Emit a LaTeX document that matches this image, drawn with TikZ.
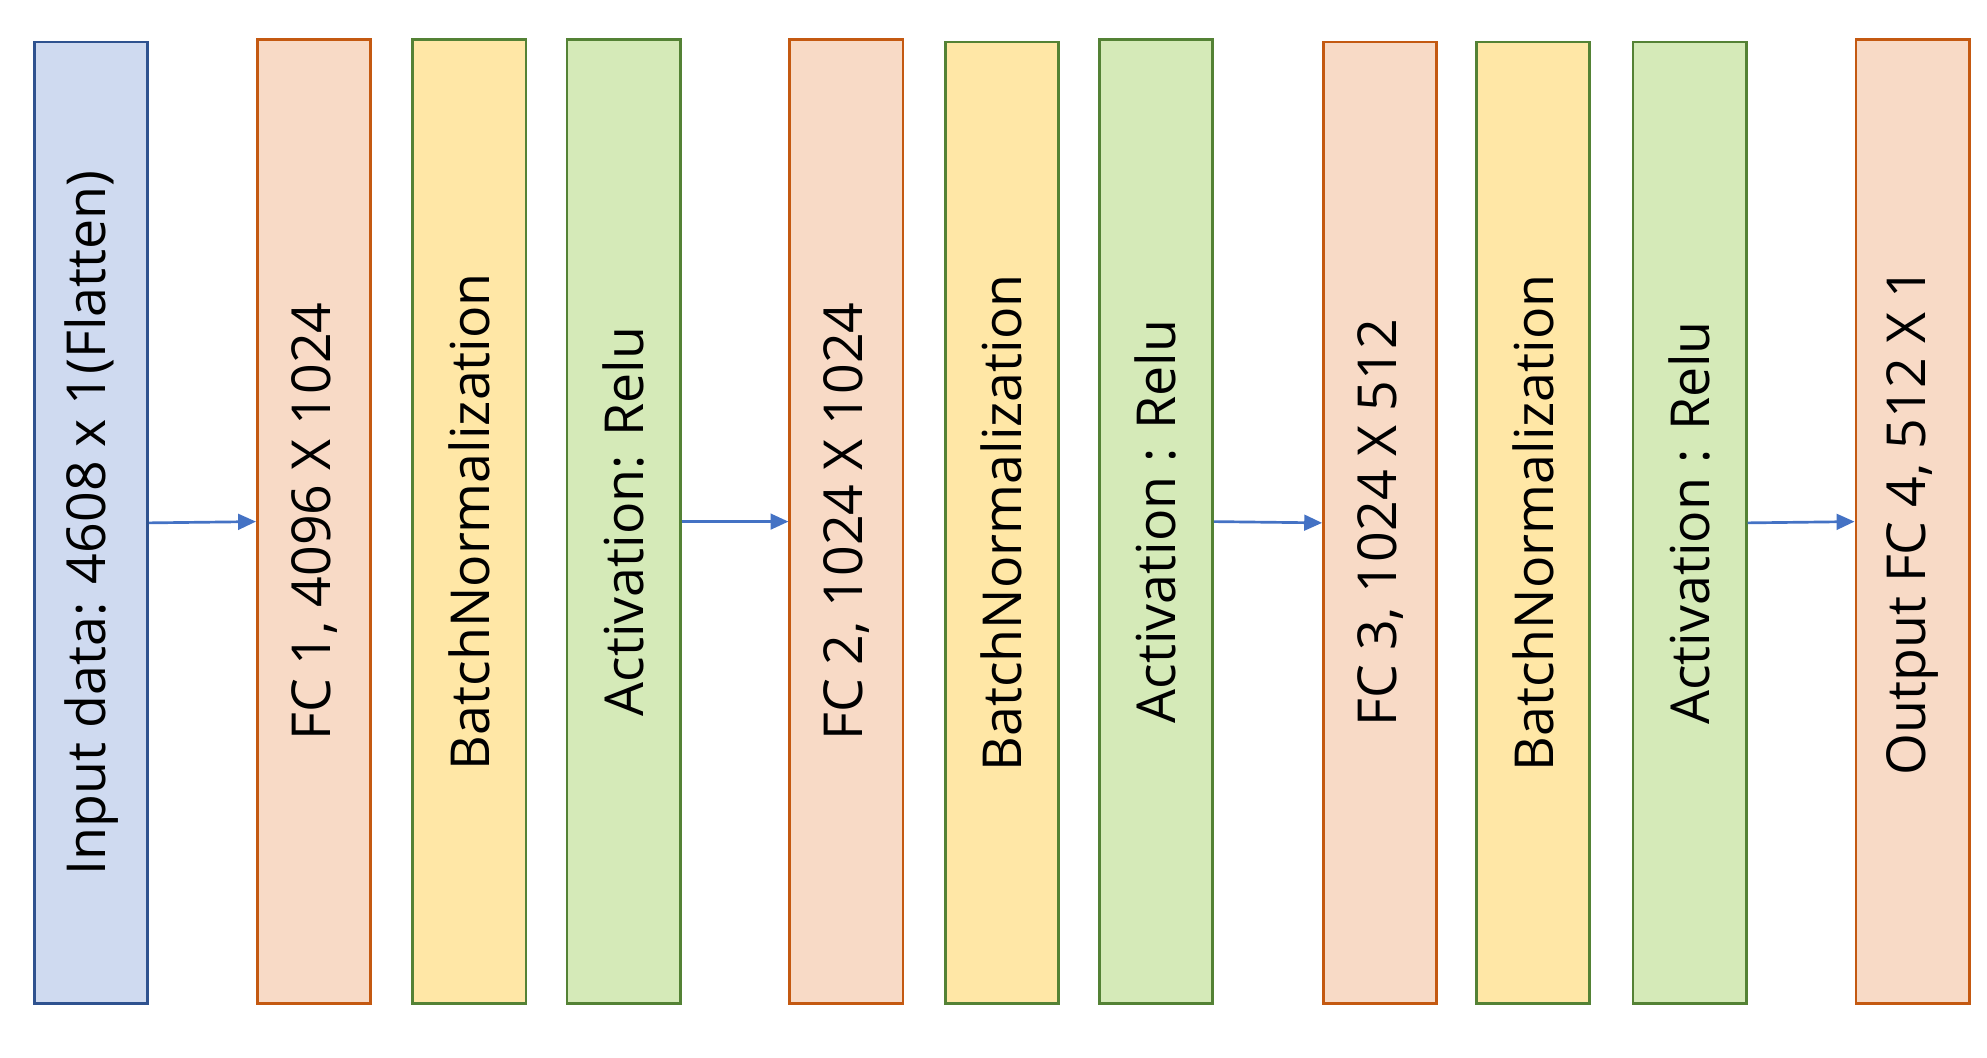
\documentclass[tikz,border=0pt]{standalone}
\usepackage{fontspec}
\setmainfont{Open Sans}
\usetikzlibrary{arrows.meta}
\definecolor{inblue}{RGB}{207,218,240}
\definecolor{inedge}{RGB}{47,82,143}
\definecolor{fcfill}{RGB}{248,218,198}
\definecolor{fcedge}{RGB}{196,89,17}
\definecolor{bnfill}{RGB}{255,231,166}
\definecolor{acfill}{RGB}{213,234,184}
\definecolor{gredge}{RGB}{84,130,53}
\definecolor{arr}{RGB}{68,114,196}
\tikzset{layer/.style={draw,line width=1.2pt,minimum width=1.78cm,minimum height=15.1cm,inner sep=0pt,anchor=south west},
 lbl/.style={rotate=90,font=\fontsize{24}{28}\selectfont}}
\begin{document}
\begin{tikzpicture}[x=0.02cm,y=-0.02cm]
\useasboundingbox (0,0) rectangle (1560,830);
\node[layer,fill=inblue,draw=inedge,minimum height=15.1cm] (in) at (26,789){};
\node[lbl] at (in.center){Input data: 4608 x 1(Flatten)};
\node[layer,fill=fcfill,draw=fcedge,minimum height=15.14cm] (fc1) at (201,789){};
\node[lbl] at (fc1.center){FC 1, 4096 X 1024};
\node[layer,fill=bnfill,draw=gredge,minimum height=15.14cm] (bn1) at (323,789){};
\node[lbl] at (bn1.center){BatchNormalization};
\node[layer,fill=acfill,draw=gredge,minimum height=15.14cm] (ac1) at (444,789){};
\node[lbl] at (ac1.center){Activation: Relu};
\node[layer,fill=fcfill,draw=fcedge,minimum height=15.14cm] (fc2) at (619,789){};
\node[lbl] at (fc2.center){FC 2, 1024 X 1024};
\node[layer,fill=bnfill,draw=gredge,minimum height=15.1cm] (bn2) at (741,789){};
\node[lbl] at (bn2.center){BatchNormalization};
\node[layer,fill=acfill,draw=gredge,minimum height=15.14cm] (ac2) at (862,789){};
\node[lbl] at (ac2.center){Activation : Relu};
\node[layer,fill=fcfill,draw=fcedge,minimum height=15.1cm] (fc3) at (1038,789){};
\node[lbl] at (fc3.center){FC 3, 1024 X 512};
\node[layer,fill=bnfill,draw=gredge,minimum height=15.1cm] (bn3) at (1158,789){};
\node[lbl] at (bn3.center){BatchNormalization};
\node[layer,fill=acfill,draw=gredge,minimum height=15.1cm] (ac3) at (1281,789){};
\node[lbl] at (ac3.center){Activation : Relu};
\node[layer,fill=fcfill,draw=fcedge,minimum height=15.14cm] (out) at (1456,789){};
\node[lbl] at (out.center){Output FC 4, 512 X 1};
\foreach \a/\b in {in/fc1,ac1/fc2,ac2/fc3,ac3/out}
 \draw[arr,line width=1.2pt,-{Triangle[length=8pt,width=7pt]}] (\a.east) -- (\b.west);
\end{tikzpicture}
\end{document}
